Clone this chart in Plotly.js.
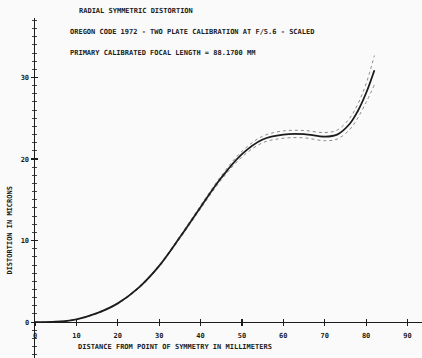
<!DOCTYPE html>
<html>
<head>
<meta charset="utf-8">
<script src="https://cdn.plot.ly/plotly-3.0.1.min.js"></script>
<style>
  html, body { margin: 0; padding: 0; background: #fafafa; }
  #chart { width: 422px; height: 358px; }
</style>
</head>
<body>
<div id="chart"></div>
<script>
// Radial distance from the point of symmetry (mm)
const distanceMm = [0, 5, 10, 15, 20, 25, 30, 35, 40, 45, 50, 55, 60, 65, 70, 73, 76, 78, 80, 82];
// Calibrated radial symmetric distortion (microns)
const distortion = [0, 0.05, 0.35, 1.1, 2.3, 4.2, 6.9, 10.4, 14.1, 17.7, 20.6, 22.4, 23.0, 23.05, 22.75, 23.0, 24.3, 25.9, 28.1, 30.9];
// Upper and lower confidence limits (microns)
const upperLimit = [0, 0.05, 0.35, 1.15, 2.35, 4.3, 7.0, 10.55, 14.3, 17.95, 20.95, 22.8, 23.45, 23.5, 23.25, 23.55, 25.0, 26.75, 29.25, 32.7];
const lowerLimit = [0, 0.05, 0.35, 1.05, 2.25, 4.1, 6.8, 10.25, 13.9, 17.45, 20.25, 22.0, 22.55, 22.6, 22.25, 22.45, 23.6, 25.05, 26.95, 29.1];

const xTicks = [0, 10, 20, 30, 40, 50, 60, 70, 80, 90];
const yTicks = [0, 10, 20, 30];

const titleLines = [
  'RADIAL SYMMETRIC DISTORTION',
  'OREGON CODE 1972 - TWO PLATE CALIBRATION AT F/5.6 - SCALED',
  'PRIMARY CALIBRATED FOCAL LENGTH = 88.1700 MM'
];
const xTitle = 'DISTANCE FROM POINT OF SYMMETRY IN MILLIMETERS';
const yTitle = 'DISTORTION IN MICRONS';

const xRange = [0, 93.5];
const yRange = [-4.4, 37.3];
// the distance axis crosses the distortion axis at zero
const xAxisPos = (0 - yRange[0]) / (yRange[1] - yRange[0]);

const ink = '#1c1c1c';
const mono = { family: 'DejaVu Sans Mono', size: 7, color: ink, weight: 'bold' };

const traces = [
  { x: distanceMm, y: upperLimit, mode: 'lines', line: { color: '#8a8a8a', width: 1, dash: 'dot', shape: 'spline', smoothing: 1 }, hoverinfo: 'skip' },
  { x: distanceMm, y: lowerLimit, mode: 'lines', line: { color: '#8a8a8a', width: 1, dash: 'dot', shape: 'spline', smoothing: 1 }, hoverinfo: 'skip' },
  { x: distanceMm, y: distortion, mode: 'lines', line: { color: ink, width: 1.8, shape: 'spline', smoothing: 1 } }
];

const axisCommon = { showgrid: false, zeroline: false, fixedrange: true };

const layout = {
  width: 422, height: 358,
  margin: { l: 35, r: 0, t: 18, b: 0 },
  paper_bgcolor: '#fafafa', plot_bgcolor: '#fafafa',
  showlegend: false,
  xaxis: Object.assign({}, axisCommon, {
    range: xRange, anchor: 'free', position: xAxisPos,
    showline: true, linecolor: ink, linewidth: 1.3,
    tickmode: 'array', tickvals: xTicks, ticktext: xTicks.map(String),
    ticks: 'outside', ticklen: 3, tickwidth: 1.2, tickcolor: ink,
    tickfont: mono, ticklabelstandoff: 3
  }),
  xaxis2: Object.assign({}, axisCommon, {
    range: xRange, overlaying: 'x', anchor: 'free', position: xAxisPos,
    tickmode: 'array', tickvals: xTicks, showticklabels: false,
    ticks: 'inside', ticklen: 3, tickwidth: 1.2, tickcolor: ink
  }),
  yaxis: Object.assign({}, axisCommon, {
    range: yRange, anchor: 'x',
    showline: true, linecolor: ink, linewidth: 1.5,
    tickmode: 'array', tickvals: yTicks, ticktext: yTicks.map(String),
    ticks: 'outside', ticklen: 3, tickwidth: 1.2, tickcolor: ink,
    tickfont: mono,
    minor: { tickmode: 'linear', tick0: 0, dtick: 1, ticks: 'outside', ticklen: 2, tickwidth: 1, tickcolor: '#444' }
  }),
  yaxis2: Object.assign({}, axisCommon, {
    range: yRange, overlaying: 'y', anchor: 'x',
    tickmode: 'array', tickvals: yTicks, showticklabels: false,
    ticks: 'inside', ticklen: 3, tickwidth: 1.2, tickcolor: ink,
    minor: { tickmode: 'linear', tick0: 0, dtick: 1, ticks: 'inside', ticklen: 2, tickwidth: 1, tickcolor: '#444' }
  }),
  annotations: [
    { text: titleLines[0], xref: 'paper', yref: 'paper', x: 0.109, y: 1.022, xanchor: 'left', yanchor: 'middle', showarrow: false, font: mono },
    { text: titleLines[1], xref: 'paper', yref: 'paper', x: 0.086, y: 0.96, xanchor: 'left', yanchor: 'middle', showarrow: false, font: mono },
    { text: titleLines[2], xref: 'paper', yref: 'paper', x: 0.086, y: 0.898, xanchor: 'left', yanchor: 'middle', showarrow: false, font: mono },
    { text: xTitle, xref: 'paper', yref: 'paper', x: 0.361, y: 0.033, xanchor: 'center', yanchor: 'middle', showarrow: false, font: mono },
    { text: yTitle, xref: 'paper', yref: 'paper', x: -0.067, y: 0.375, xanchor: 'center', yanchor: 'middle', textangle: -90, showarrow: false, font: mono }
  ]
};

// an invisible point binds the overlay axes that carry the inner tick halves
traces.push({ x: [xRange[0]], y: [0], xaxis: 'x2', yaxis: 'y2', mode: 'markers', marker: { opacity: 0 }, hoverinfo: 'skip' });

Plotly.newPlot('chart', traces, layout, { displayModeBar: false, staticPlot: true });
</script>
</body>
</html>
